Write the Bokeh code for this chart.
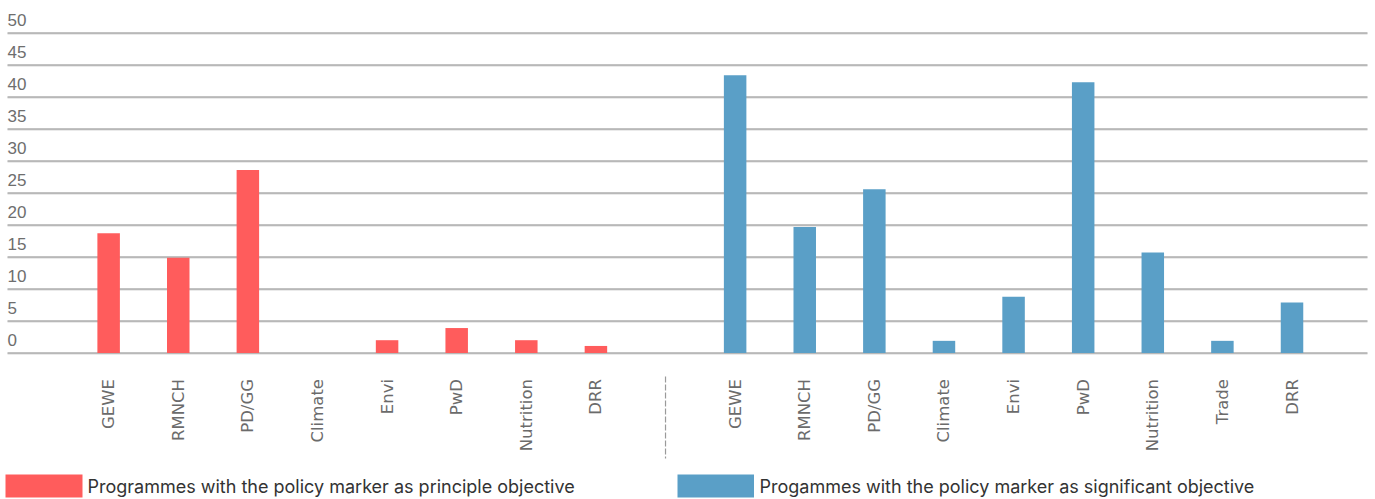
import numpy as np
from bokeh.plotting import figure
from bokeh.models import ColumnDataSource, Range1d
from bokeh.core.properties import value
from bokeh.embed import file_html
from bokeh.resources import INLINE

# ---------------- data ----------------
principle_categories = ["GEWE", "RMNCH", "PD/GG", "Climate", "Envi", "PwD", "Nutrition", "DRR"]
principle_values = [18.7, 14.9, 28.6, 0, 2.0, 3.9, 2.0, 1.1]

significant_categories = ["GEWE", "RMNCH", "PD/GG", "Climate", "Envi", "PwD", "Nutrition", "Trade", "DRR"]
significant_values = [43.4, 19.7, 25.6, 1.9, 8.8, 42.3, 15.7, 1.9, 7.9]

y_ticks = [0, 5, 10, 15, 20, 25, 30, 35, 40, 45, 50]

legend_labels = [
    "Programmes with the policy marker as principle objective",
    "Progammes with the policy marker as significant objective",
]

RED = "#FF5C5C"
BLUE = "#5A9FC7"

# ---------------- layout (pixel mapping) ----------------
W, H = 1375, 499
PAGE = 0                 # figure offset on the page
SLOT_PX = 69.61          # pixels per category slot
SLOT0_PX = 108.14        # page x of first slot centre
ZERO_PX = 352.5          # page y of value 0
UNIT_PX = 6.4            # pixels per unit
GRID_RIGHT_PX = 1367     # gridlines end here

x_start = (PAGE - SLOT0_PX) / SLOT_PX
x_end = x_start + W / SLOT_PX
y_end = (ZERO_PX - PAGE) / UNIT_PX
y_start = y_end - H / UNIT_PX


def X(px):
    return (px - SLOT0_PX) / SLOT_PX


def Y(py):
    return (ZERO_PX - py) / UNIT_PX


p = figure(width=W, height=H, output_backend="svg", toolbar_location=None,
           x_range=Range1d(x_start, x_end), y_range=Range1d(y_start, y_end),
           x_axis_location=None, y_axis_location=None, min_border=0,
           outline_line_color=None, background_fill_color="white",
           border_fill_color="white")
p.grid.grid_line_color = None

# gridlines
n_t = len(y_ticks)
p.segment(x0=[X(7)] * n_t, x1=[X(GRID_RIGHT_PX)] * n_t,
          y0=[t - 1 / UNIT_PX for t in y_ticks], y1=[t - 1 / UNIT_PX for t in y_ticks],
          line_color="#d6d6d6", line_width=1)
p.segment(x0=[X(7)] * n_t, x1=[X(GRID_RIGHT_PX)] * n_t, y0=y_ticks, y1=y_ticks,
          line_color="#858585", line_width=1)

# y tick labels (above gridlines, at left)
p.text(x=[X(7)] * n_t, y=y_ticks, text=[str(t) for t in y_ticks],
       text_align="left", text_baseline="alphabetic", y_offset=-13,
       text_font=value("Liberation Sans"), text_font_size="17px", text_color="#6e6e6e")

n_p = len(principle_categories)
sep_x = n_p
src_p = ColumnDataSource(dict(x=list(range(n_p)), top=principle_values,
                              label=principle_categories, zero=[0] * n_p))
src_s = ColumnDataSource(dict(x=[n_p + 1 + i for i in range(len(significant_categories))],
                              top=significant_values, label=significant_categories,
                              zero=[0] * len(significant_categories)))

BAR_W = 22.5 / SLOT_PX
p.vbar(x="x", top="top", bottom=0, width=BAR_W, source=src_p, fill_color=RED, line_color=None)
p.vbar(x="x", top="top", bottom=0, width=BAR_W, source=src_s, fill_color=BLUE, line_color=None)

# category labels (vertical)
for src in (src_p, src_s):
    p.text(x="x", y="zero", text="label", source=src, angle=np.pi / 2,
           text_align="right", text_baseline="middle", y_offset=26,
           text_font=value("DejaVu Sans"), text_font_size="16.5px", text_color="#6b6b6b")

# dashed separator between the two groups
p.segment(x0=[sep_x], y0=[Y(376)], x1=[sep_x], y1=[Y(458)],
          line_color="#9a9a9a", line_width=1.2, line_dash="6 2")

# legend
p.quad(left=[X(5), X(677)], right=[X(82), X(753.5)], top=[Y(474)] * 2, bottom=[Y(497)] * 2,
       fill_color=[RED, BLUE], line_color=None)
p.text(x=[X(87), X(759)], y=[Y(486)] * 2, text=legend_labels,
       text_align="left", text_baseline="alphabetic",
       text_font=value("Inter"), text_font_size="18px", text_color="#333333")

open("out.html", "w").write(file_html(p, INLINE))
